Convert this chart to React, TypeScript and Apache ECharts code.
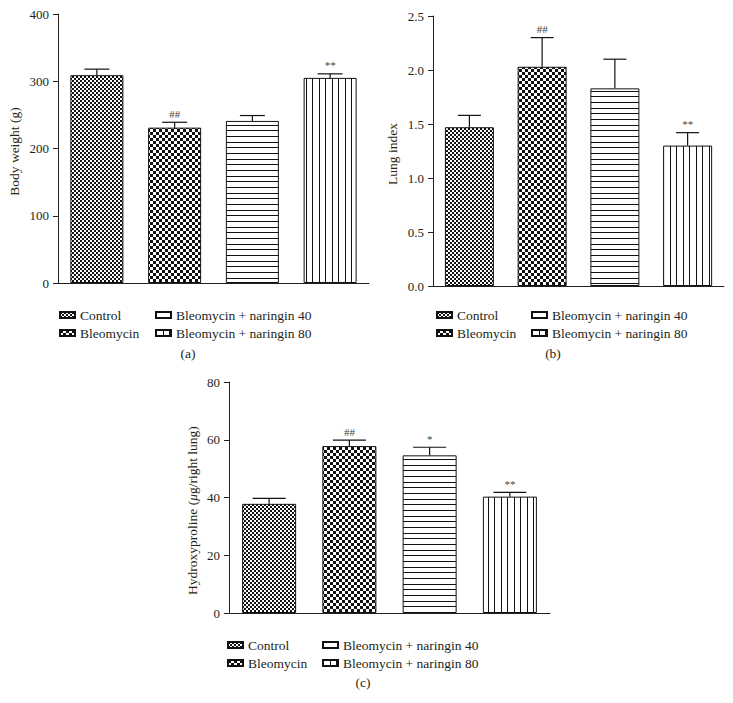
import React, { useEffect, useRef } from 'react';
import * as echarts from 'echarts';

const categories = ['Control', 'Bleomycin', 'Bleomycin + naringin 40', 'Bleomycin + naringin 80'];

const bodyWeightMean = [309, 231, 241, 305];
const bodyWeightSem = [9, 8, 8, 6];
const bodyWeightMarks = ['', '##', '', '**'];
const bodyWeightTicks = [0, 100, 200, 300, 400];

const lungIndexMean = [1.47, 2.03, 1.83, 1.3];
const lungIndexSem = [0.11, 0.27, 0.27, 0.12];
const lungIndexMarks = ['', '##', '', '**'];
const lungIndexTicks = [0, 0.5, 1.0, 1.5, 2.0, 2.5];

const hypMean = [37.8, 57.8, 54.6, 40.3];
const hypSem = [1.9, 2.1, 2.8, 1.5];
const hypMarks = ['', '##', '*', '**'];
const hypTicks = [0, 20, 40, 60, 80];

const FONT = '"Liberation Serif", "Times New Roman", serif';
const INK = '#231f20';

function makeCanvas(w: number, h: number, draw: (ctx: CanvasRenderingContext2D) => void) {
  const c = document.createElement('canvas');
  c.width = w;
  c.height = h;
  const ctx = c.getContext('2d')!;
  ctx.fillStyle = '#ffffff';
  ctx.fillRect(0, 0, w, h);
  ctx.fillStyle = '#111111';
  draw(ctx);
  return { image: c, repeat: 'repeat', imageWidth: w, imageHeight: h } as any;
}

function checker(cell: number) {
  return makeCanvas(cell * 2, cell * 2, (ctx) => {
    ctx.fillRect(0, 0, cell, cell);
    ctx.fillRect(cell, cell, cell, cell);
  });
}

function makePatterns() {
  const hLines = makeCanvas(4, 17, (ctx) => {
    ctx.fillRect(0, 0, 4, 1);
    ctx.fillRect(0, 6, 4, 1);
    ctx.fillRect(0, 11, 4, 1);
  });
  const vLines = makeCanvas(13, 4, (ctx) => {
    ctx.fillRect(0, 0, 1, 4);
    ctx.fillRect(7, 0, 1, 4);
  });
  return [checker(2), checker(3), hLines, vLines];
}

interface Panel {
  mean: number[];
  sem: number[];
  marks: string[];
  ticks: number[];
  name: any;
  nameGap: number;
  grid: { left: number; top: number; width: number; height: number };
  barWidth: number;
  capWidth: number;
  decimals: number;
  legendLeft: [number, number];
  legendTop: number;
}

const panels: Panel[] = [
  {
    mean: bodyWeightMean, sem: bodyWeightSem, marks: bodyWeightMarks, ticks: bodyWeightTicks,
    name: 'Body weight (g)', nameGap: 37,
    grid: { left: 58, top: 14, width: 311, height: 269 },
    barWidth: 53, capWidth: 25, decimals: 0, legendLeft: [59, 155], legendTop: 307,
  },
  {
    mean: lungIndexMean, sem: lungIndexSem, marks: lungIndexMarks, ticks: lungIndexTicks,
    name: 'Lung index', nameGap: 34,
    grid: { left: 433, top: 16, width: 291, height: 270 },
    barWidth: 49, capWidth: 23, decimals: 1, legendLeft: [436, 531], legendTop: 307,
  },
  {
    mean: hypMean, sem: hypSem, marks: hypMarks, ticks: hypTicks,
    name: 'Hydroxyproline ({it|μ}g/right lung)', nameGap: 30,
    grid: { left: 229, top: 382, width: 321, height: 231 },
    barWidth: 54, capWidth: 33, decimals: 0, legendLeft: [227, 322], legendTop: 637,
  },
];

export default function App() {
  const ref = useRef<HTMLDivElement>(null);

  useEffect(() => {
    if (!ref.current) return;
    const chart = echarts.init(ref.current, undefined, { renderer: 'svg' });
    const patterns = makePatterns();

    const grids: any[] = [];
    const xAxes: any[] = [];
    const yAxes: any[] = [];
    const series: any[] = [];
    const legends: any[] = [];

    panels.forEach((p, pi) => {
      grids.push({ ...p.grid, containLabel: false });
      xAxes.push({
        type: 'category',
        gridIndex: pi,
        data: categories,
        boundaryGap: true,
        axisLine: { lineStyle: { color: INK, width: 1 } },
        axisTick: { alignWithLabel: true, length: 8, lineStyle: { color: INK } },
        axisLabel: { show: false },
        splitLine: { show: false },
      });
      const interval = p.ticks[1] - p.ticks[0];
      yAxes.push({
        type: 'value',
        gridIndex: pi,
        min: p.ticks[0],
        max: p.ticks[p.ticks.length - 1],
        interval,
        name: p.name,
        nameLocation: 'middle',
        nameGap: p.nameGap,
        nameTextStyle: {
          fontFamily: FONT,
          fontSize: 13.5,
          color: INK,
          padding: pi === 2 ? [0, 26, 0, 0] : [0, 6, 0, 0],
          rich: { it: { fontFamily: FONT, fontSize: 13.5, fontStyle: 'italic', color: INK } },
        },
        axisLine: { show: true, lineStyle: { color: INK, width: 1 } },
        axisTick: { show: true, length: 5, lineStyle: { color: INK } },
        axisLabel: {
          fontFamily: FONT,
          fontSize: 13,
          color: INK,
          margin: 9,
          formatter: (v: number) => v.toFixed(p.decimals),
        },
        splitLine: { show: false },
      });

      categories.forEach((c, ci) => {
        series.push({
          type: 'bar',
          name: c,
          xAxisIndex: pi,
          yAxisIndex: pi,
          barWidth: p.barWidth,
          barGap: '-100%',
          data: p.mean.map((v, j) => (j === ci ? v : '-')),
          itemStyle: { color: patterns[ci], borderColor: '#111111', borderWidth: 1 },
          emphasis: { disabled: true },
          z: 2,
        });
      });

      series.push({
        type: 'custom',
        xAxisIndex: pi,
        yAxisIndex: pi,
        z: 5,
        data: p.mean.map((v, i) => [i, v, v + p.sem[i]]),
        encode: { x: 0, y: [1, 2] },
        renderItem: (params: any, api: any) => {
          const i = api.value(0);
          const base = api.coord([i, api.value(1)]);
          const top = api.coord([i, api.value(2)]);
          const half = p.capWidth / 2;
          const mark = p.marks[params.dataIndex];
          const children: any[] = [
            { type: 'line', shape: { x1: base[0], y1: base[1], x2: top[0], y2: top[1] }, style: { stroke: '#111111', lineWidth: 1.2 } },
            { type: 'line', shape: { x1: top[0] - half, y1: top[1], x2: top[0] + half, y2: top[1] }, style: { stroke: '#111111', lineWidth: 1.2 } },
          ];
          if (mark) {
            children.push({
              type: 'text',
              x: top[0],
              y: top[1] - 3,
              style: {
                text: mark,
                fontFamily: FONT,
                fontSize: 11,
                fill: '#444444',
                align: 'center',
                verticalAlign: 'bottom',
              },
            });
          }
          return { type: 'group', children };
        },
      });

      const legendBase = {
        orient: 'vertical',
        top: p.legendTop,
        padding: 0,
        itemGap: 2,
        itemWidth: 15,
        itemHeight: 6,
        icon: 'rect',
        selectedMode: false,
        textStyle: { fontFamily: FONT, fontSize: 13.5, color: INK, lineHeight: 16 },
      };
      legends.push({ ...legendBase, left: p.legendLeft[0], data: [categories[0], categories[1]] });
      legends.push({ ...legendBase, left: p.legendLeft[1], data: [categories[2], categories[3]] });
    });

    const labelStyle = { fontFamily: FONT, fontSize: 13.5, fill: INK, align: 'center', verticalAlign: 'middle' };

    chart.setOption({
      animation: false,
      backgroundColor: '#ffffff',
      grid: grids,
      xAxis: xAxes,
      yAxis: yAxes,
      legend: legends,
      series,
      graphic: [
        { type: 'text', x: 188, y: 353, style: { ...labelStyle, text: '(a)' } },
        { type: 'text', x: 553, y: 353, style: { ...labelStyle, text: '(b)' } },
        { type: 'text', x: 363, y: 682, style: { ...labelStyle, text: '(c)' } },
      ],
    });

    return () => chart.dispose();
  }, []);

  return (
    <div
      ref={ref}
      style={{ position: 'absolute', left: 0, top: 0, width: 733, height: 703, background: '#fff' }}
    />
  );
}
